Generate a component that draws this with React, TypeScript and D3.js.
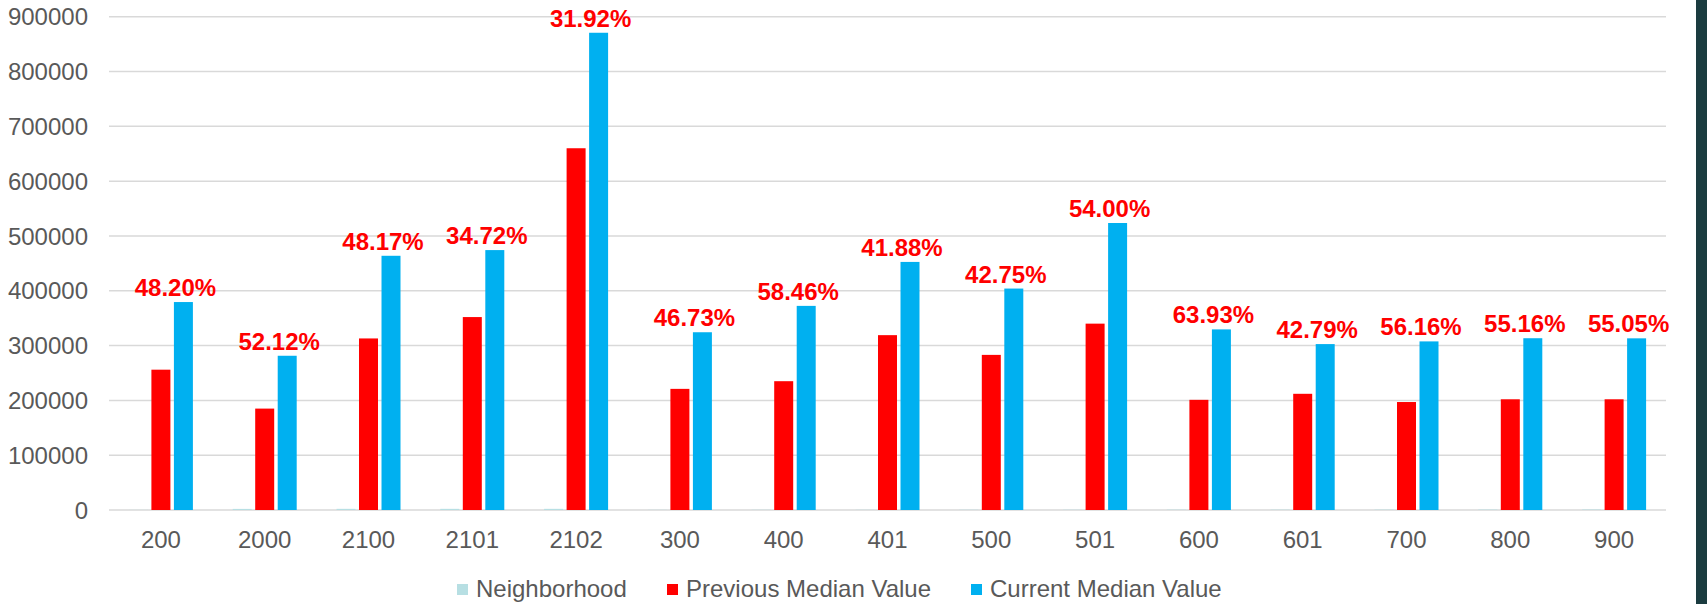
import React, { useEffect, useRef } from "react";
import * as d3 from "d3";

// values
const categories = ["200", "2000", "2100", "2101", "2102", "300", "400", "401", "500", "501", "600", "601", "700", "800", "900"];
const neighborhood = [200, 2000, 2100, 2101, 2102, 300, 400, 401, 500, 501, 600, 601, 700, 800, 900];
const previousMedian = [256000, 185000, 313000, 352000, 660000, 221000, 235000, 319000, 283000, 340000, 201000, 212000, 197000, 202000, 202000];
const currentMedian = [379400, 281400, 463800, 474200, 870700, 324300, 372400, 452600, 404000, 523600, 329500, 302700, 307600, 313400, 313200];
const changeLabels = ["48.20%", "52.12%", "48.17%", "34.72%", "31.92%", "46.73%", "58.46%", "41.88%", "42.75%", "54.00%", "63.93%", "42.79%", "56.16%", "55.16%", "55.05%"];
const seriesNames = ["Neighborhood", "Previous Median Value", "Current Median Value"];
const seriesColors = ["#b7dfe3", "#ff0000", "#00b0f0"];
const yTicks = [0, 100000, 200000, 300000, 400000, 500000, 600000, 700000, 800000, 900000];

const width = 1707;
const height = 604;
const font = "'Liberation Sans', Arial, sans-serif";

const App = () => {
  const ref = useRef<SVGGElement>(null);

  useEffect(() => {
    const g = d3.select(ref.current);
    g.selectAll("*").remove();

    const y = d3.scaleLinear().domain([0, 900000]).range([510, 16.7]);
    const x0 = d3.scaleBand().domain(categories).range([109, 1666]);
    const x1 = d3.scaleBand().domain(seriesNames).range([-32, 32]).paddingInner(0.156);
    const series = [neighborhood, previousMedian, currentMedian];

    // gridlines
    g.append("g")
      .selectAll("line")
      .data(yTicks)
      .join("line")
      .attr("x1", 109)
      .attr("x2", 1666)
      .attr("y1", d => y(d))
      .attr("y2", d => y(d))
      .attr("stroke", "#d9d9d9")
      .attr("stroke-width", 1.5);

    // y tick labels
    g.append("g")
      .selectAll("text")
      .data(yTicks)
      .join("text")
      .attr("x", 88)
      .attr("y", d => y(d))
      .attr("dy", "0.36em")
      .attr("text-anchor", "end")
      .style("font-family", font)
      .style("font-size", "24px")
      .style("fill", "#595959")
      .text(d => d3.format("d")(d));

    // bars
    const groups = g.append("g")
      .selectAll("g")
      .data(categories)
      .join("g")
      .attr("transform", d => `translate(${x0(d)! + x0.bandwidth() / 2},0)`);

    groups
      .selectAll("rect")
      .data((d, i) => series.map((s, k) => ({ key: seriesNames[k], value: s[i], color: seriesColors[k] })))
      .join("rect")
      .attr("x", d => x1(d.key)!)
      .attr("width", x1.bandwidth())
      .attr("y", d => y(d.value))
      .attr("height", d => y(0) - y(d.value))
      .attr("fill", d => d.color);

    // x tick labels
    g.append("g")
      .selectAll("text")
      .data(categories)
      .join("text")
      .attr("x", d => x0(d)! + x0.bandwidth() / 2)
      .attr("y", 548)
      .attr("text-anchor", "middle")
      .style("font-family", font)
      .style("font-size", "24px")
      .style("fill", "#595959")
      .text(d => d);

    // percentage labels above current value bars
    g.append("g")
      .selectAll("text")
      .data(categories)
      .join("text")
      .attr("x", d => x0(d)! + x0.bandwidth() / 2 + x1("Current Median Value")! + x1.bandwidth() / 2 - 8)
      .attr("y", (d, i) => y(currentMedian[i]) - 6)
      .attr("text-anchor", "middle")
      .style("font-family", font)
      .style("font-size", "24px")
      .style("font-weight", "bold")
      .style("fill", "#ff0000")
      .text((d, i) => changeLabels[i]);

    // legend
    const legendX = [457, 667, 971];
    const legend = g.append("g")
      .selectAll("g")
      .data(seriesNames)
      .join("g")
      .attr("transform", (d, i) => `translate(${legendX[i]},0)`);
    legend.append("rect")
      .attr("y", 584)
      .attr("width", 11)
      .attr("height", 11)
      .attr("fill", (d, i) => seriesColors[i]);
    legend.append("text")
      .attr("x", 19)
      .attr("y", 597)
      .style("font-family", font)
      .style("font-size", "24px")
      .style("fill", "#595959")
      .text(d => d);
  }, []);

  return (
    <svg
      width={width}
      height={height}
      style={{ position: "absolute", left: 0, top: 0, background: "#fff" }}
    >
      <rect x={0} y={0} width={width} height={height} fill="#ffffff" />
      <g ref={ref} />
      <rect x={1696} y={0} width={11} height={height} fill="#1b3c40" />
    </svg>
  );
};

export default App;
